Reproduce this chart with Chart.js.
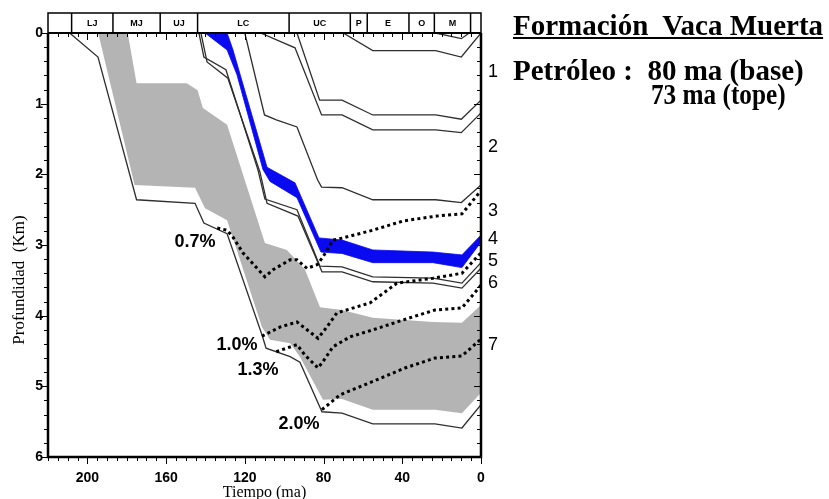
<!DOCTYPE html>
<html lang="es">
<head>
<meta charset="utf-8">
<title>Formación Vaca Muerta - historia de soterramiento</title>
<script src="https://cdn.jsdelivr.net/npm/chart.js@4.4.1/dist/chart.umd.min.js"></script>
<style>
  html, body { margin: 0; padding: 0; background: #fff; }
  #wrap { position: relative; width: 829px; height: 499px; overflow: hidden; }
  #burial { position: absolute; left: 0; top: 0; }
  .note {
    position: absolute;
    font-family: "Liberation Serif", "Times New Roman", serif;
    font-weight: bold;
    font-size: 29px;
    line-height: 29px;
    white-space: pre;
    color: #000;
  }
  .narrow { transform: scaleX(0.87); transform-origin: 0 0; }
</style>
</head>
<body>
<div id="wrap">
  <canvas id="burial" width="829" height="499"></canvas>
  <div class="note" style="left:513px; top:11px; text-decoration: underline;">Formación  Vaca Muerta</div>
  <div class="note" style="left:513px; top:56px;">Petróleo :  80 ma (base)</div>
  <div class="note narrow" style="left:651px; top:80px;">73 ma (tope)</div>
</div>
<script>
// Geologic time scale for the header band (ma)
const periodBounds = [220, 208, 187, 163, 144, 97.5, 66.4, 57.8, 36.6, 23.7, 5.3, 0];
const periodNames = ['', 'LJ', 'MJ', 'UJ', 'LC', 'UC', 'P', 'E', 'O', 'M', ''];

// Horizon burial paths, [age ma, depth km]
const hTop = [[23, 0], [10, 0.08], [6, 0]];
const h70 = [[70, 0], [55, 0.25], [23, 0.25], [10, 0.34], [0, 0]];
const h93 = [[93.5, 0], [82, 0.95], [70.6, 0.95], [55, 1.16], [23, 1.16], [10, 1.22], [0, 0.95]];
const h112 = [[112, 0], [94.5, 0.21], [81, 1.16], [70.6, 1.16], [55, 1.37], [23, 1.37], [10, 1.41], [0, 1.13]];
const h120 = [[120, 0], [110, 1.16], [104, 1.23], [93.5, 1.33], [83, 2.08], [81, 2.18], [70.6, 2.19], [55, 2.36], [23, 2.36], [10, 2.4], [0, 2.15]];

// Vaca Muerta source rock (top and base)
const vmTop = [[129, 0], [126, 0.24], [108.7, 1.9], [94.5, 2.12], [82.3, 2.9], [70.6, 2.93], [55, 3.07], [24.4, 3.1], [9.7, 3.14], [0, 2.86]];
const vmBase = [[140.2, 0], [129, 0.24], [124, 0.59], [110.8, 1.93], [107.2, 2.1], [93.5, 2.33], [81.3, 3.1], [70.6, 3.12], [55, 3.25], [24.4, 3.25], [9.7, 3.32], [0, 2.96]];

const h143 = [[143.3, 0], [140.8, 0.34], [129.6, 0.52], [113.3, 1.94], [109.8, 2.35], [93.5, 2.5], [81.8, 3.3], [70.6, 3.31], [55, 3.45], [24.4, 3.47], [9.7, 3.54], [0, 3.25]];
const h142 = [[142.3, 0], [139.2, 0.41], [128.6, 0.64], [112.3, 1.97], [108.7, 2.41], [93, 2.59], [80.8, 3.38], [70.6, 3.38], [55, 3.52], [24.4, 3.54], [9.7, 3.61], [0, 3.33]];

// Jurassic interval (shaded grey)
const grayTop = [[179.5, 0], [175, 0.71], [149.5, 0.71], [144, 0.81], [141.3, 1.06], [129, 1.3], [109.8, 2.97], [98.6, 3.07], [89.4, 3.35], [81.8, 3.88], [70.6, 3.92], [55, 4.03], [24.4, 4.09], [9.7, 4.1], [0, 3.85]];
const grayBase = [[194.5, 0], [176, 2.15], [145.3, 2.19], [140.2, 2.48], [129, 2.65], [111.3, 4.16], [107.2, 4.34], [97, 4.39], [92, 4.58], [80.3, 5.19], [70.6, 5.18], [55, 5.33], [23.4, 5.33], [9.7, 5.38], [0, 5.09]];
const hBase = [[209, 0], [194.6, 0.34], [175, 2.36], [145.3, 2.41], [140.8, 2.69], [129, 2.84], [111.3, 4.27], [109.2, 4.46], [97, 4.58], [92, 4.66], [80.8, 5.36], [70.6, 5.38], [55, 5.53], [23.4, 5.53], [9.7, 5.59], [0, 5.26]];

// Vitrinite reflectance isolines
const ro07 = [[134, 2.76], [129, 2.79], [126, 2.89], [121, 3.11], [109.8, 3.45], [105.7, 3.35], [97, 3.21], [93.5, 3.21], [88.4, 3.33], [83.3, 3.28], [80.3, 3.17], [75.2, 2.93], [70.1, 2.9], [54.9, 2.79], [39.6, 2.66], [22.4, 2.59], [9.7, 2.56], [0, 2.23]];
const ro10 = [[111.3, 4.29], [102, 4.16], [93.5, 4.09], [88.4, 4.2], [82.8, 4.32], [78.3, 4.16], [73.2, 3.96], [56.4, 3.82], [42.7, 3.54], [24.4, 3.47], [9.7, 3.4], [0, 3.11]];
const ro13 = [[104, 4.51], [93.5, 4.41], [89.4, 4.56], [82.8, 4.74], [80.3, 4.65], [75.2, 4.44], [66.6, 4.3], [54.9, 4.2], [36.1, 4.03], [23.4, 3.92], [9.7, 3.89], [0, 3.57]];
const ro20 = [[80.8, 5.33], [71.6, 5.12], [54.9, 4.93], [38.6, 4.74], [23.4, 4.6], [9.7, 4.57], [0, 4.33]];

const roLabels = ['0.7%', '1.0%', '1.3%', '2.0%'];
const roLabelAt = [[145.3, 2.96], [124, 4.41], [113.3, 4.77], [92.5, 5.53]];

// Unit numbers along the right edge, at present-day depth
const unitLabels = ['1', '2', '3', '4', '5', '6', '7'];
const unitDepths = [0.55, 1.61, 2.52, 2.91, 3.23, 3.54, 4.41];

const xMinorStep = 5, xMajorStep = 40, yMinorStep = 0.2;

const pts = arr => arr.map(([x, y]) => ({x, y}));
const band = (upper, lower) => pts(upper.concat(lower.slice().reverse()));

const LINE = '#2e2e2e';
const horizon = data => ({data: pts(data), borderColor: LINE, borderWidth: 1.3, fill: false, order: 3});
const isoline = data => ({
  data: pts(data), borderColor: '#000', borderWidth: 3, borderDash: [3, 3.2],
  borderCapStyle: 'butt', fill: false, order: 2
});

const burialFrame = {
  id: 'burialFrame',
  afterDraw(chart) {
    const {ctx, chartArea: a, scales: {x, y}} = chart;
    ctx.save();
    ctx.strokeStyle = '#000';
    ctx.fillStyle = '#000';

    // header band with the period boxes
    const bandTop = a.top - 20;
    ctx.lineWidth = 1.5;
    ctx.strokeRect(a.left, bandTop, a.right - a.left, a.top - bandTop);
    ctx.font = 'bold 9px "Liberation Sans", Arial, sans-serif';
    ctx.textAlign = 'center';
    ctx.textBaseline = 'middle';
    periodNames.forEach((name, i) => {
      const x0 = x.getPixelForValue(periodBounds[i]);
      const x1 = x.getPixelForValue(periodBounds[i + 1]);
      if (i > 0) {
        ctx.beginPath();
        ctx.moveTo(x0, bandTop);
        ctx.lineTo(x0, a.top);
        ctx.stroke();
      }
      if (name) ctx.fillText(name, (x0 + x1) / 2, (bandTop + a.top) / 2 + 1);
    });

    // tick marks: outside on left/bottom, inside on top/right
    ctx.lineWidth = 1;
    ctx.beginPath();
    for (let t = 0; t <= x.max + 1e-6; t += xMinorStep) {
      const px = Math.round(x.getPixelForValue(t)) + 0.5;
      const len = t % xMajorStep === 0 ? 7 : 4;
      ctx.moveTo(px, a.bottom);
      ctx.lineTo(px, a.bottom + len);
      ctx.moveTo(px, a.top);
      ctx.lineTo(px, a.top + len);
    }
    const ny = Math.round(y.max / yMinorStep);
    for (let i = 0; i <= ny; i++) {
      const py = Math.round(y.getPixelForValue(i * yMinorStep)) + 0.5;
      const len = i % 5 === 0 ? 7 : 4;
      ctx.moveTo(a.left, py);
      ctx.lineTo(a.left - len, py);
      ctx.moveTo(a.right, py);
      ctx.lineTo(a.right - len, py);
    }
    ctx.stroke();

    // frame
    ctx.lineWidth = 2.5;
    ctx.beginPath();
    ctx.moveTo(a.left, a.top);
    ctx.lineTo(a.left, a.bottom);
    ctx.lineTo(a.right, a.bottom);
    ctx.lineTo(a.right, a.top);
    ctx.stroke();
    ctx.lineWidth = 2;
    ctx.beginPath();
    ctx.moveTo(a.left, a.top);
    ctx.lineTo(a.right, a.top);
    ctx.stroke();

    // axis titles
    ctx.font = '16px "Liberation Serif", "Times New Roman", serif';
    ctx.textAlign = 'center';
    ctx.textBaseline = 'alphabetic';
    ctx.fillText('Tiempo (ma)', (a.left + a.right) / 2, 497);
    ctx.save();
    ctx.font = '17px "Liberation Serif", "Times New Roman", serif';
    ctx.translate(24, 280);
    ctx.rotate(-Math.PI / 2);
    ctx.fillText('Profundidad  (Km)', 0, 0);
    ctx.restore();

    // unit numbers
    ctx.font = '18px "Liberation Sans", Arial, sans-serif';
    ctx.textBaseline = 'middle';
    unitLabels.forEach((t, i) => ctx.fillText(t, a.right + 12, y.getPixelForValue(unitDepths[i])));

    // reflectance labels
    ctx.font = 'bold 18px "Liberation Sans", Arial, sans-serif';
    roLabels.forEach((t, i) => {
      const [age, depth] = roLabelAt[i];
      ctx.fillText(t, x.getPixelForValue(age), y.getPixelForValue(depth));
    });
    ctx.restore();
  }
};

const tickFont = {family: '"Liberation Sans", Arial, sans-serif', weight: 'bold', size: 14};

new Chart(document.getElementById('burial'), {
  type: 'line',
  data: {
    datasets: [
      {data: band(grayTop, grayBase), fill: 'shape', backgroundColor: '#b4b4b4',
        borderColor: 'rgba(0,0,0,0)', borderWidth: 0, order: 5},
      {data: band(vmTop, vmBase), fill: 'shape', backgroundColor: '#0a0af0',
        borderColor: '#0a0af0', borderWidth: 0.8, order: 4},
      horizon(hTop), horizon(h70), horizon(h93), horizon(h112), horizon(h120),
      horizon(h143), horizon(h142), horizon(hBase),
      isoline(ro07), isoline(ro10), isoline(ro13), isoline(ro20)
    ]
  },
  options: {
    responsive: false,
    animation: false,
    devicePixelRatio: 1,
    layout: {padding: {left: 0, top: 33, right: 348, bottom: 0}},
    elements: {point: {radius: 0}, line: {tension: 0}},
    plugins: {legend: {display: false}, tooltip: {enabled: false}},
    scales: {
      x: {
        type: 'linear', min: 0, max: 220, reverse: true,
        grid: {display: false, drawTicks: false},
        border: {display: false},
        ticks: {stepSize: 40, includeBounds: false, font: tickFont, color: '#000',
          padding: 13, maxRotation: 0, autoSkip: false},
        afterFit(s) { s.height = 42; s.paddingLeft = 0; s.paddingRight = 0; }
      },
      y: {
        type: 'linear', min: 0, max: 6, reverse: true,
        grid: {display: false, drawTicks: false},
        border: {display: false},
        ticks: {stepSize: 1, font: tickFont, color: '#000', padding: 5},
        afterFit(s) { s.width = 48; s.paddingTop = 0; s.paddingBottom = 0; }
      }
    }
  },
  plugins: [burialFrame]
});
</script>
</body>
</html>
